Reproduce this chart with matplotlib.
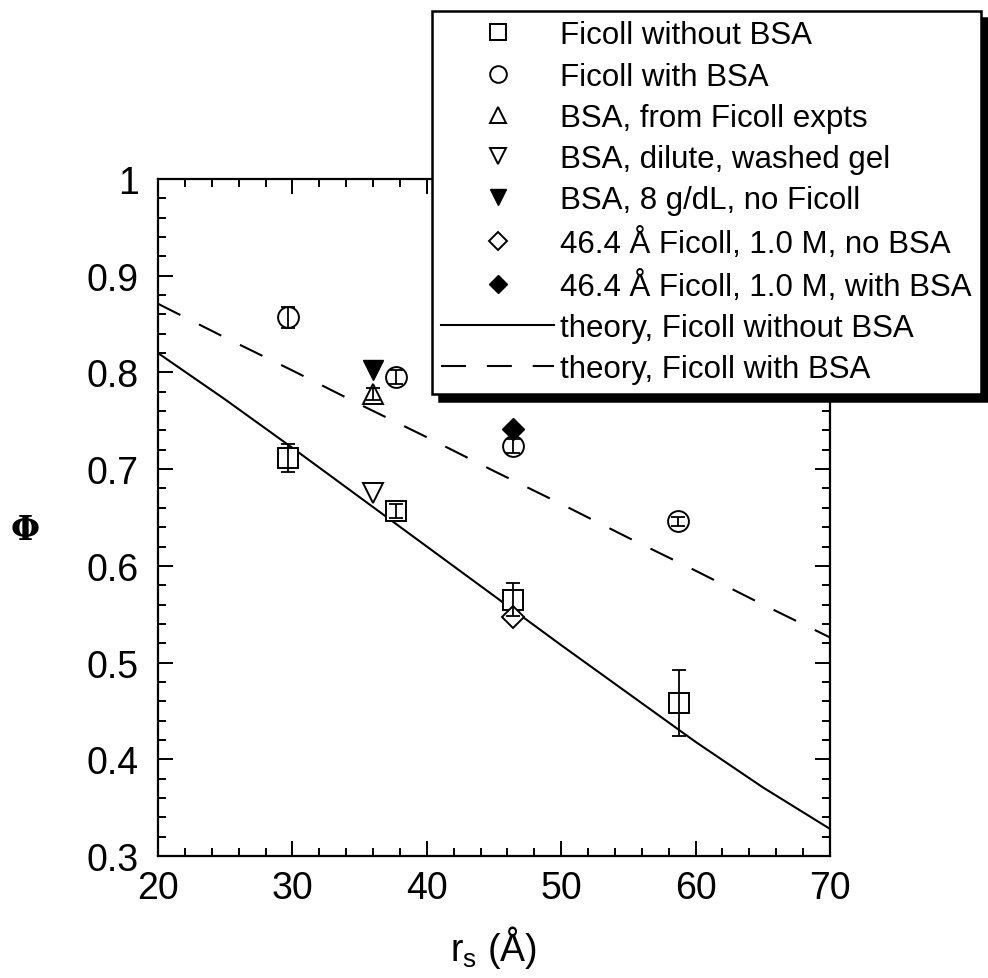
import numpy as np
import matplotlib
matplotlib.use("Agg")
import matplotlib.pyplot as plt
from matplotlib.ticker import MultipleLocator

plt.rcParams['font.family'] = ['Liberation Sans', 'DejaVu Sans']
plt.rcParams['mathtext.default'] = 'regular'

# Ficoll without BSA (squares)
sq_x = [29.7, 37.7, 46.4, 58.8]
sq_y = [0.712, 0.657, 0.565, 0.458]
sq_err = [0.0145, 0.007, 0.017, 0.034]

# Ficoll with BSA (circles)
ci_x = [29.7, 37.7, 46.4, 58.7]
ci_y = [0.857, 0.795, 0.724, 0.646]
ci_err = [0.011, 0.007, 0.007, 0.005]

# BSA points
bsa_up_x, bsa_up_y, bsa_up_err = [36.0], [0.778], [0.006]
bsa_dn_x, bsa_dn_y = [36.0], [0.675]
bsa_8g_x, bsa_8g_y = [36.0], [0.803]

# 46.4 A Ficoll, 1.0 M
dia_open_x, dia_open_y = [46.4], [0.547]
dia_fill_x, dia_fill_y = [46.4], [0.742]

# theory curves
th_x = [20, 25, 30, 35, 40, 45, 50, 55, 60, 65, 70]
th_no_bsa = [0.820, 0.772, 0.722, 0.671, 0.620, 0.569, 0.518, 0.468, 0.418, 0.371, 0.328]
th_bsa = [0.871, 0.836, 0.802, 0.767, 0.733, 0.698, 0.664, 0.629, 0.595, 0.560, 0.526]

fig = plt.figure(figsize=(9.88, 9.79), dpi=100)
ax = fig.add_axes([158/988, 1-857/979, 672/988, 677/979])

ms = 15
mk = dict(mfc='white', mec='black', mew=1.4, ls='none', ms=ms, zorder=3)
eb = dict(fmt='none', ecolor='black', elinewidth=1.3, capsize=5, capthick=1.3, zorder=4)

h_sq, = ax.plot(sq_x, sq_y, marker='s', **mk)
ax.errorbar(sq_x, sq_y, yerr=sq_err, **eb)
h_ci, = ax.plot(ci_x, ci_y, marker='o', **mk)
ax.errorbar(ci_x, ci_y, yerr=ci_err, **eb)
h_up, = ax.plot(bsa_up_x, bsa_up_y, marker='^', **mk)
ax.errorbar(bsa_up_x, bsa_up_y, yerr=bsa_up_err, **eb)
h_dn, = ax.plot(bsa_dn_x, bsa_dn_y, marker='v', **mk)
h_8g, = ax.plot(bsa_8g_x, bsa_8g_y, marker='v', ls='none', ms=ms, color='black', zorder=3)
h_do, = ax.plot(dia_open_x, dia_open_y, marker='D', **{**mk, 'ms': 11})
h_df, = ax.plot(dia_fill_x, dia_fill_y, marker='D', ls='none', ms=11, color='black', zorder=3)

h_t1, = ax.plot(th_x, th_no_bsa, color='black', lw=1.5)
h_t2, = ax.plot(th_x, th_bsa, color='black', lw=1.5, ls=(0, (12, 10)))

ax.set_xlim(20, 70)
ax.set_ylim(0.3, 1.0)
ax.xaxis.set_major_locator(MultipleLocator(10))
ax.xaxis.set_minor_locator(MultipleLocator(2))
ax.yaxis.set_minor_locator(MultipleLocator(0.02))
ax.set_yticks([0.3, 0.4, 0.5, 0.6, 0.7, 0.8, 0.9, 1.0])
ax.set_yticklabels(['0.3', '0.4', '0.5', '0.6', '0.7', '0.8', '0.9', '1'])
ax.tick_params(which='both', direction='in', top=True, right=True, width=1.4)
ax.tick_params(which='major', length=11, labelsize=27)
ax.tick_params(axis='x', which='major', pad=10)
ax.tick_params(axis='y', which='major', pad=14)
ax.tick_params(which='minor', length=6)
for s in ax.spines.values():
    s.set_linewidth(1.6)

ax.set_xlabel(r'$r_s$ (Å)', fontsize=27, labelpad=12)
fig.text(25/988, 1-530/979, 'Φ', fontsize=24, family='DejaVu Serif',
         weight='bold', ha='center', va='center')

handles = [h_sq, h_ci, h_up, h_dn, h_8g, h_do, h_df, h_t1, h_t2]
labels = ['Ficoll without BSA', 'Ficoll with BSA', 'BSA, from Ficoll expts',
          'BSA, dilute, washed gel', 'BSA, 8 g/dL, no Ficoll',
          '46.4 Å Ficoll, 1.0 M, no BSA', '46.4 Å Ficoll, 1.0 M, with BSA',
          'theory, Ficoll without BSA', 'theory, Ficoll with BSA']
leg = ax.legend(handles, labels, loc='upper left', bbox_to_anchor=(432/988, 1-12/979),
                bbox_transform=fig.transFigure, borderaxespad=0, fontsize=22.5,
                numpoints=1, markerscale=0.8, handlelength=3.6, handletextpad=0.2,
                labelspacing=0.36, borderpad=0.3, fancybox=False, framealpha=1,
                edgecolor='black',
                shadow={'ox': 5, 'oy': -5, 'color': 'black', 'alpha': 1})
leg.get_frame().set_linewidth(1.8)
leg.set_zorder(10)

fig.savefig('out.png', dpi=100)
